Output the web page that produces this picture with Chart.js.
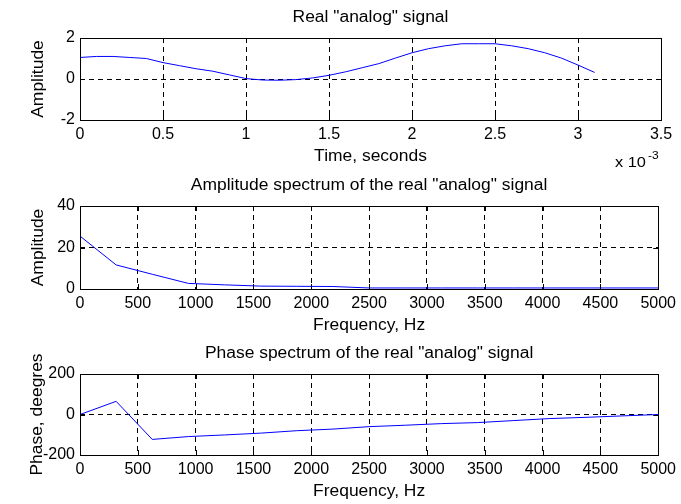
<!DOCTYPE html>
<html>
<head>
<meta charset="utf-8">
<script src="https://cdn.jsdelivr.net/npm/chart.js@4.4.0/dist/chart.umd.min.js"></script>
<style>
  html, body { margin: 0; padding: 0; background: #fff; }
  #wrap { position: relative; width: 681px; height: 504px; }
  #wrap canvas { position: absolute; left: 0; top: 0; }
</style>
</head>
<body>
<div id="wrap">
  <canvas id="signalChart" width="681" height="504"></canvas>
  <canvas id="ampChart" width="681" height="504"></canvas>
  <canvas id="phaseChart" width="681" height="504"></canvas>
</div>
<script>
// sampled signal (seconds) - 32 samples
const timeSec = [0, 0.0001, 0.0002, 0.0003, 0.0004, 0.0005, 0.0006, 0.0007, 0.0008, 0.0009,
  0.0010, 0.0011, 0.0012, 0.0013, 0.0014, 0.0015, 0.0016, 0.0017, 0.0018, 0.0019,
  0.0020, 0.0021, 0.0022, 0.0023, 0.0024, 0.0025, 0.0026, 0.0027, 0.0028, 0.0029,
  0.0030, 0.0031];
const signalAmp = [1.05, 1.1, 1.1, 1.05, 1.0, 0.8, 0.65, 0.5, 0.38, 0.2,
  0.02, -0.05, -0.06, -0.03, 0.05, 0.18, 0.35, 0.55, 0.75, 1.02,
  1.28, 1.48, 1.62, 1.72, 1.72, 1.72, 1.62, 1.48, 1.28, 1.02,
  0.68, 0.32];

// spectrum bins
const freqHz = [0, 312.5, 625, 937.5, 1250, 1562.5, 1875, 2187.5, 2500, 2812.5,
  3125, 3437.5, 3750, 4062.5, 4375, 4687.5, 5000];
const ampSpectrum = [25.5, 11.6, 7.1, 2.7, 2.0, 1.4, 1.3, 1.2, 0.5, 0.5,
  0.5, 0.5, 0.5, 0.5, 0.5, 0.5, 0.5];
const phaseDeg = [0, 65, -123, -109, -101, -92, -80, -72, -60, -53,
  -45, -40, -30, -20, -14, -7, 0];

const FONT = 'Arial, "Liberation Sans", Helvetica, sans-serif';
const Y_AXIS_W = 80;
const X_AXIS_H = 30;
const STRETCH = 1.09; // matlab's helvetica runs a bit wider than arial

function stretchedText(ctx, text, x, y, rot) {
  ctx.save();
  ctx.translate(x, y);
  if (rot) ctx.rotate(rot);
  ctx.scale(STRETCH, 1);
  ctx.fillText(text, 0, 0);
  ctx.restore();
}

// MATLAB-ish box, inward ticks and all the labels
const matlabAxes = {
  id: 'matlabAxes',
  afterDraw(chart, args, opts) {
    const { ctx, chartArea: a, scales } = chart;
    ctx.save();
    ctx.strokeStyle = '#000';
    ctx.lineWidth = 1;
    ctx.setLineDash([]);
    ctx.strokeRect(Math.round(a.left) + 0.5, Math.round(a.top) + 0.5,
      Math.round(a.right - a.left), Math.round(a.bottom - a.top));
    ctx.beginPath();
    scales.x.ticks.forEach(t => {
      const px = Math.round(scales.x.getPixelForValue(t.value)) + 0.5;
      ctx.moveTo(px, a.bottom); ctx.lineTo(px, a.bottom - 5);
      ctx.moveTo(px, a.top); ctx.lineTo(px, a.top + 5);
    });
    scales.y.ticks.forEach(t => {
      const py = Math.round(scales.y.getPixelForValue(t.value)) + 0.5;
      ctx.moveTo(a.left, py); ctx.lineTo(a.left + 5, py);
      ctx.moveTo(a.right, py); ctx.lineTo(a.right - 5, py);
    });
    ctx.stroke();

    ctx.fillStyle = '#000';
    ctx.textAlign = 'center';
    ctx.textBaseline = 'middle';
    ctx.font = '16px ' + FONT;
    const cx = (a.left + a.right) / 2;
    stretchedText(ctx, opts.title, cx, a.top - 20);
    stretchedText(ctx, opts.xlabel, cx, a.bottom + 37);
    stretchedText(ctx, opts.ylabel, opts.ylabelX, (a.top + a.bottom) / 2, -Math.PI / 2);
    if (opts.exponent) {
      ctx.textAlign = 'left';
      ctx.font = '15px ' + FONT;
      stretchedText(ctx, 'x 10', 615, a.bottom + 43);
      ctx.font = '11px ' + FONT;
      stretchedText(ctx, opts.exponent, 648, a.bottom + 36);
    }
    ctx.restore();
  }
};

function makeAxes(xMin, xMax, xStep, yMin, yMax, yStep, xFmt) {
  const grid = { color: '#000', lineWidth: 1, drawTicks: false };
  return {
    x: {
      type: 'linear', min: xMin, max: xMax,
      grid: grid,
      border: { display: false, dash: [5, 4] },
      ticks: { stepSize: xStep, color: '#000', padding: 5, maxRotation: 0, autoSkip: false,
        font: { size: 16, family: FONT }, callback: xFmt },
      afterFit: s => { s.height = X_AXIS_H; }
    },
    y: {
      type: 'linear', min: yMin, max: yMax,
      grid: grid,
      border: { display: false, dash: [5, 4] },
      ticks: { stepSize: yStep, color: '#000', padding: 5,
        font: { size: 16, family: FONT } },
      afterFit: s => { s.width = Y_AXIS_W; }
    }
  };
}

function buildChart(id, xs, ys, top, bottom, scales, labels) {
  const points = xs.map((x, i) => ({ x: x, y: ys[i] }));
  return new Chart(document.getElementById(id), {
    type: 'line',
    data: {
      datasets: [{
        data: points,
        borderColor: '#0000ff',
        borderWidth: 1,
        pointRadius: 0,
        tension: 0,
        fill: false
      }]
    },
    options: {
      responsive: false,
      animation: false,
      events: [],
      layout: { padding: { left: 0, right: 20, top: top, bottom: 504 - bottom - X_AXIS_H } },
      scales: scales,
      plugins: {
        legend: { display: false },
        tooltip: { enabled: false },
        matlabAxes: labels
      }
    },
    plugins: [matlabAxes]
  });
}

const plain = v => String(v);

buildChart('signalChart', timeSec, signalAmp, 38, 120,
  makeAxes(0, 0.0035, 0.0005, -2, 2, 2, v => String(Math.round(v * 10000) / 10)),
  { title: 'Real "analog" signal', xlabel: 'Time, seconds', ylabel: 'Amplitude', ylabelX: 39, exponent: '-3' });

buildChart('ampChart', freqHz, ampSpectrum, 206, 289,
  makeAxes(0, 5000, 500, 0, 40, 20, plain),
  { title: 'Amplitude spectrum of the real "analog" signal', xlabel: 'Frequency, Hz', ylabel: 'Amplitude', ylabelX: 39 });

buildChart('phaseChart', freqHz, phaseDeg, 374, 455,
  makeAxes(0, 5000, 500, -200, 200, 200, plain),
  { title: 'Phase spectrum of the real "analog" signal', xlabel: 'Frequency, Hz', ylabel: 'Phase, deegres', ylabelX: 38 });
</script>
</body>
</html>
